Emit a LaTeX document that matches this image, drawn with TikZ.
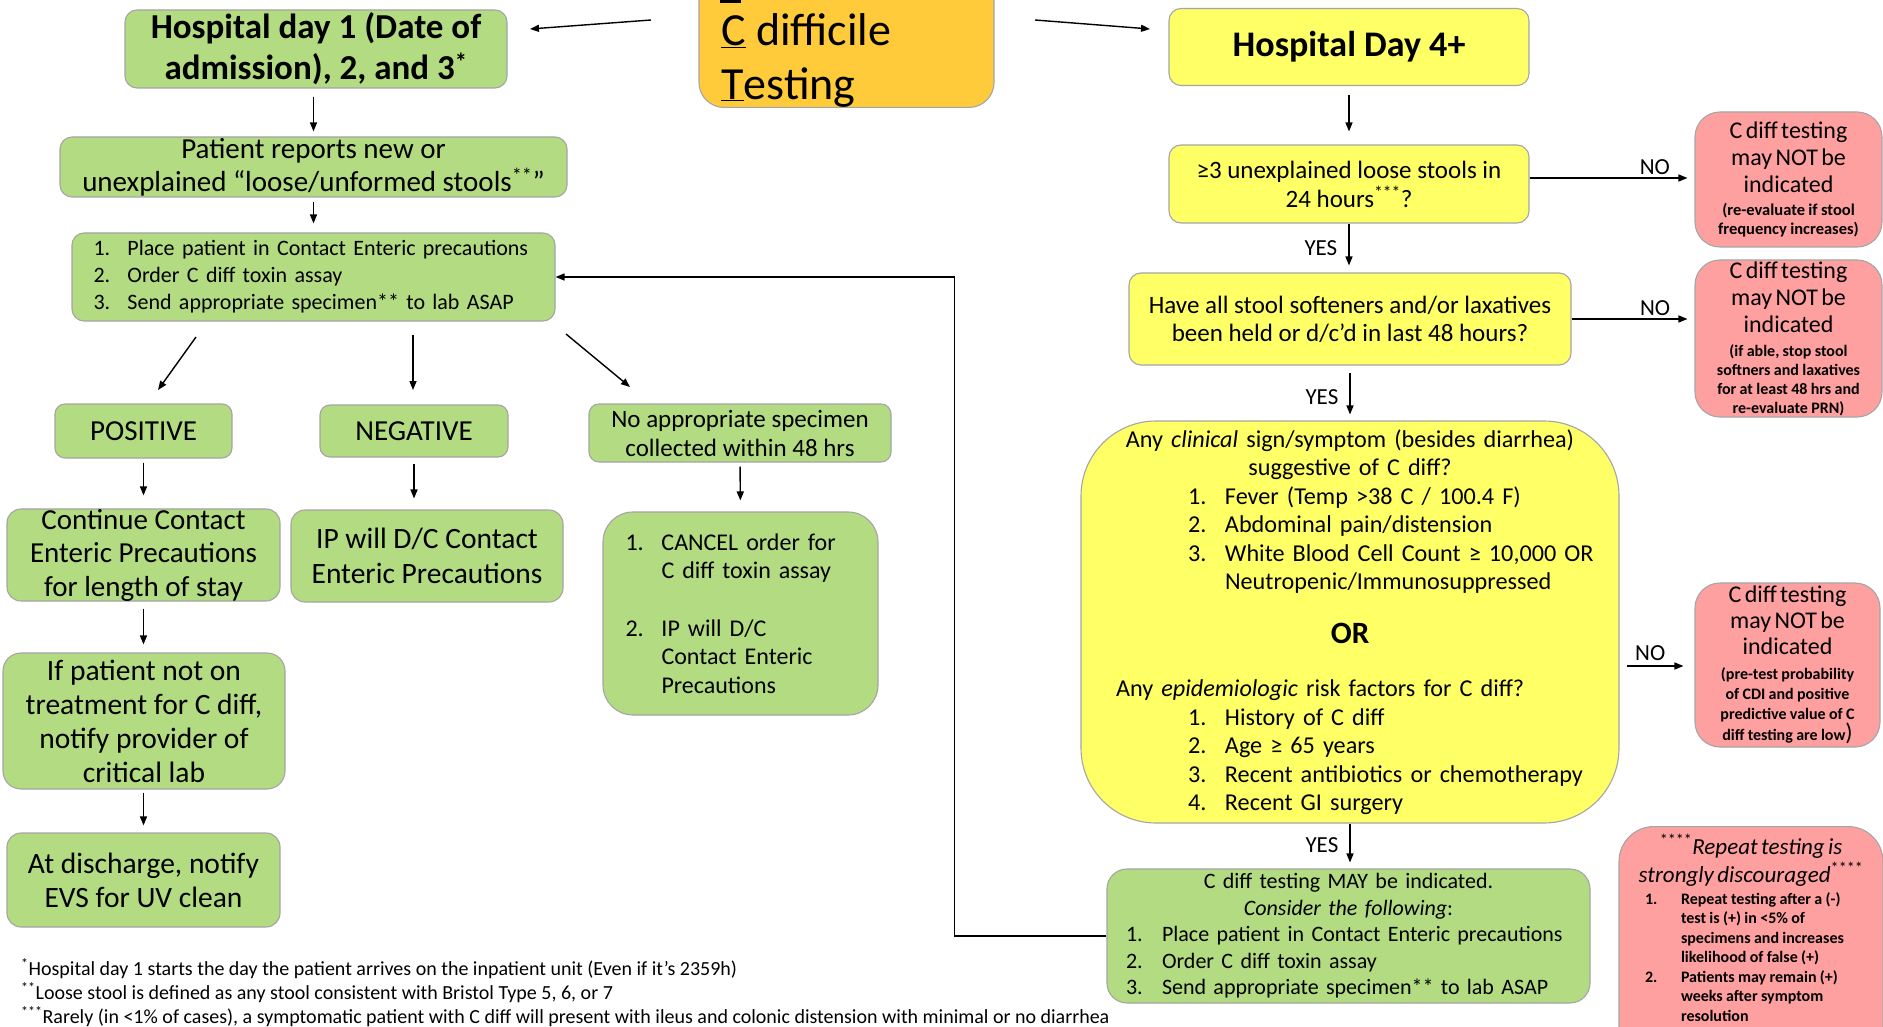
\documentclass[tikz,border=0pt]{standalone}
\usepackage{fontspec}
\setmainfont{Carlito}
\usetikzlibrary{arrows.meta,calc}
\definecolor{gfill}{RGB}{179,219,130}
\definecolor{yfill}{RGB}{255,255,102}
\definecolor{ofill}{RGB}{255,203,58}
\definecolor{rfill}{RGB}{255,160,160}
\definecolor{bord}{RGB}{165,165,165}
\newcommand\fsz[2]{\fontsize{#1}{#2}\selectfont}
\newcommand\itm[2]{\makebox[#1][l]{#2}}
\begin{document}
\begin{tikzpicture}[x=1pt,y=-1pt,
  bx/.style={draw=bord,line width=1.1pt,inner sep=0pt,align=center},
  gbox/.style={bx,fill=gfill},
  ybox/.style={bx,fill=yfill},
  rbox/.style={bx,fill=rfill},
  sz/.style 2 args={minimum width=#1pt,minimum height=#2pt},
  arr/.style={line width=1.4pt,-{Triangle[length=9pt,width=7pt]}},
  lab/.style={font=\fsz{23}{26},inner sep=0pt}
]
\fill[white] (0,0) rectangle (1883,1027);
\useasboundingbox (0,0) rectangle (1883,1027);

% ---------- top ----------
\node[bx,fill=ofill,rounded corners=25pt,sz={295}{170},anchor=south] (org) at (846.5,108) {};
\node[font=\fsz{46}{54},align=left,anchor=west,inner sep=0pt] (orgt) at (721,60) {\underline{C} difficile\\\underline{T}esting};
\draw[line width=2.5pt] (720,1.5) -- (741,1.5);

\node[gbox,rounded corners=12pt,sz={382}{78},font=\fsz{35}{41}\bfseries] (h1) at (316,49) {Hospital day 1 (Date of\\admission), 2, and 3\textsuperscript{*}};
\node[ybox,rounded corners=12pt,sz={360}{77},font=\fsz{36}{40}\bfseries] (day4) at (1349,47) {Hospital Day 4+};

% ---------- left column ----------
\node[gbox,rounded corners=12pt,sz={507}{60},font=\fsz{29}{33}] (pat) at (313.5,167) {Patient reports new or\\unexplained “loose/unformed stools\textsuperscript{**}”};
\node[gbox,rounded corners=12pt,sz={483}{88},text width=440pt,align=left,font=\fsz{22}{27}] (list) at (313.5,277)
  {\itm{34pt}{1.}Place patient in Contact Enteric precautions\\\itm{34pt}{2.}Order C diff toxin assay\\\itm{34pt}{3.}Send appropriate specimen** to lab ASAP};

\node[gbox,rounded corners=10pt,sz={177}{54},font=\fsz{29}{30}] (pos) at (143.5,431) {POSITIVE};
\node[gbox,rounded corners=10pt,sz={188}{52},font=\fsz{29}{30}] (neg) at (414,431) {NEGATIVE};
\node[gbox,rounded corners=10pt,sz={302}{58},font=\fsz{25}{29}] (noapp) at (740,433) {No appropriate specimen\\collected within 48 hrs};

\node[gbox,rounded corners=14pt,sz={273}{90},font=\fsz{29}{33.5}] (cont) at (143.5,555) {Continue Contact\\Enteric Precautions\\for length of stay};
\node[gbox,rounded corners=14pt,sz={272}{92},font=\fsz{29.5}{35}] (ipdc) at (427,556) {IP will D/C Contact\\Enteric Precautions};
\node[gbox,rounded corners=30pt,sz={275}{203},text width=230pt,align=left,font=\fsz{24}{28.5}] (cancel) at (740.5,613.5)
  {\itm{36pt}{1.}CANCEL order for\\\hspace*{36pt}C diff toxin assay\\[29pt]\itm{36pt}{2.}IP will D/C\\\hspace*{36pt}Contact Enteric\\\hspace*{36pt}Precautions};

\node[gbox,rounded corners=18pt,sz={282}{136},font=\fsz{29.5}{34}] (ifpat) at (144,721) {If patient not on\\treatment for C diff,\\notify provider of\\critical lab};
\node[gbox,rounded corners=14pt,sz={273}{94},font=\fsz{29.5}{34}] (disch) at (143.5,880) {At discharge, notify\\EVS for UV clean};

\node[font=\fsz{20}{24},align=left,anchor=north west,inner sep=0pt] (notes) at (21,958)
  {\textsuperscript{*}Hospital day 1 starts the day the patient arrives on the inpatient unit (Even if it’s 2359h)\\
   \textsuperscript{**}Loose stool is defined as any stool consistent with Bristol Type 5, 6, or 7\\
   \textsuperscript{***}Rarely (in <1\% of cases), a symptomatic patient with C diff will present with ileus and colonic distension with minimal or no diarrhea};

% ---------- right column ----------
\node[ybox,rounded corners=12pt,sz={360}{78},font=\fsz{25}{29}] (ge3) at (1349,184) {≥3 unexplained loose stools in\\24 hours\textsuperscript{***}?};
\node[ybox,rounded corners=12pt,sz={442}{92},font=\fsz{25}{28}] (have) at (1350,319) {Have all stool softeners and/or laxatives\\been held or d/c’d in last 48 hours?};
\node[ybox,rounded corners=75pt,sz={538}{402},text width=510pt,align=left,font=\fsz{24.2}{28.5}] (big) at (1350,622)
  {\makebox[510pt][c]{Any \textit{clinical} sign/symptom (besides diarrhea)}\\
   \makebox[510pt][c]{suggestive of C diff?}\\
   \hspace*{93pt}\itm{37pt}{1.}Fever (Temp >38 C / 100.4 F)\\
   \hspace*{93pt}\itm{37pt}{2.}Abdominal pain/distension\\
   \hspace*{93pt}\itm{37pt}{3.}White Blood Cell Count ≥ 10,000 OR\\
   \hspace*{130pt}Neutropenic/Immunosuppressed\\[25pt]
   \makebox[510pt][c]{\fsz{31}{30}\bfseries OR}\\[25pt]
   \hspace*{21pt}Any \textit{epidemiologic} risk factors for C diff?\\
   \hspace*{93pt}\itm{37pt}{1.}History of C diff\\
   \hspace*{93pt}\itm{37pt}{2.}Age ≥ 65 years\\
   \hspace*{93pt}\itm{37pt}{3.}Recent antibiotics or chemotherapy\\
   \hspace*{93pt}\itm{37pt}{4.}Recent GI surgery};
\node[gbox,rounded corners=20pt,sz={483}{134},text width=445pt,align=left,font=\fsz{22}{26.5}] (green2) at (1348.5,936)
  {\makebox[445pt][c]{C diff testing MAY be indicated.}\\
   \makebox[445pt][c]{\textit{Consider the following}:}\\
   \itm{36pt}{1.}Place patient in Contact Enteric precautions\\
   \itm{36pt}{2.}Order C diff toxin assay\\
   \itm{36pt}{3.}Send appropriate specimen** to lab ASAP};

\node[rbox,rounded corners=25pt,sz={187}{135},text width=187pt] (red1) at (1788.5,179.5)
  {{\fsz{24}{27}C diff testing\\may NOT be\\indicated\par}\vspace{4pt}{\fsz{16.5}{19}\bfseries (re-evaluate if stool\\frequency increases)\par}};
\node[rbox,rounded corners=25pt,sz={187}{157},text width=187pt] (red2) at (1788.5,338.5)
  {{\fsz{24}{27}C diff testing\\may NOT be\\indicated\par}\vspace{5pt}{\fsz{16}{19}\bfseries (if able, stop stool\\softners and laxatives\\for at least 48 hrs and\\re-evaluate PRN)\par}};
\node[rbox,rounded corners=25pt,sz={185}{164},text width=185pt] (red3) at (1787.5,665)
  {{\fsz{24}{26}C diff testing\\may NOT be\\indicated\par}\vspace{5pt}{\fsz{16}{20}\bfseries (pre-test probability\\of CDI and positive\\predictive value of C\\diff testing are low{\fsz{24}{20}\mdseries)}\par}};
\node[rbox,rounded corners=35pt,sz={264}{280},anchor=north] (red4) at (1751,826) {};
\node[inner sep=0pt,text width=240pt,align=left,anchor=north] (red4t) at (1751,834)
  {{\fsz{23}{28}\makebox[240pt][c]{\textsuperscript{****}\textit{Repeat testing is}}\\\makebox[240pt][c]{\textit{strongly discouraged}\textsuperscript{****}}\par}\vspace{2pt}
   {\fsz{16}{19.5}\bfseries \hspace*{14pt}\itm{36pt}{1.}Repeat testing after a (-)\\
   \hspace*{50pt}test is (+) in <5\% of\\
   \hspace*{50pt}specimens and increases\\
   \hspace*{50pt}likelihood of false (+)\\
   \hspace*{14pt}\itm{36pt}{2.}Patients may remain (+)\\
   \hspace*{50pt}weeks after symptom\\
   \hspace*{50pt}resolution\par}};

% ---------- connectors ----------
\coordinate (oa) at (651,20); \coordinate (ob) at (530,29);
\coordinate (oc) at (1035,20); \coordinate (od) at (1150,29);
\draw[arr] (oa) -- (ob);
\draw[arr] (oc) -- (od);

\draw[arr,shorten <=8pt,shorten >=5pt] (h1.south -| pat.north) -- (pat.north);
\draw[arr,shorten <=4pt,shorten >=9pt] (pat.south) -- (list.north);
\coordinate (la) at (196,337); \coordinate (lb) at (158,390);
\coordinate (lc) at (413,335); \coordinate (ld) at (413,390);
\coordinate (le) at (566,334); \coordinate (lf) at (630,387);
\draw[arr] (la) -- (lb);
\draw[arr] (lc) -- (ld);
\draw[arr] (le) -- (lf);
\draw[arr,shorten <=4pt,shorten >=13pt] (pos.south) -- (cont.north);
\draw[arr,shorten <=6pt,shorten >=11pt] (neg.south) -- (neg.south |- ipdc.north);
\draw[arr,shorten <=4pt,shorten >=11pt] (noapp.south) -- (cancel.north);
\draw[arr,shorten <=7pt,shorten >=8pt] (cont.south) -- (ifpat.north -| cont.south);
\draw[arr,shorten <=3pt,shorten >=7pt] (ifpat.south -| disch.north) -- (disch.north);

\draw[arr,shorten <=9pt,shorten >=13pt] (day4.south) -- (ge3.north);
\draw[arr,shorten >=7pt] (ge3.south) -- node[lab,left=11pt,pos=0.5]{YES} (ge3.south |- have.north);
\draw[arr,shorten <=7pt,shorten >=6pt] (have.south) -- node[lab,left=11pt,pos=0.57]{YES} (big.north);
\draw[arr,shorten >=6pt] (big.south) -- node[lab,left=11pt,pos=0.48]{YES} (big.south |- green2.north);

\draw[arr,shorten >=7pt] ([yshift=6pt]ge3.east) -- node[lab,above=3pt,pos=0.76]{NO} ([yshift=6pt]ge3.east -| red1.west);
\draw[arr,shorten >=7pt] (have.east) -- node[lab,above=3pt,pos=0.68]{NO} (have.east -| red2.west);
\draw[arr,shorten <=7pt,shorten >=11pt] ([yshift=-44pt]big.east) -- node[lab,above=5pt,pos=0.41]{NO} ([yshift=-44pt]big.east -| red3.west);

\draw[arr] (green2.west) -- ++(-152,0) |- (list.east);
\end{tikzpicture}
\end{document}
